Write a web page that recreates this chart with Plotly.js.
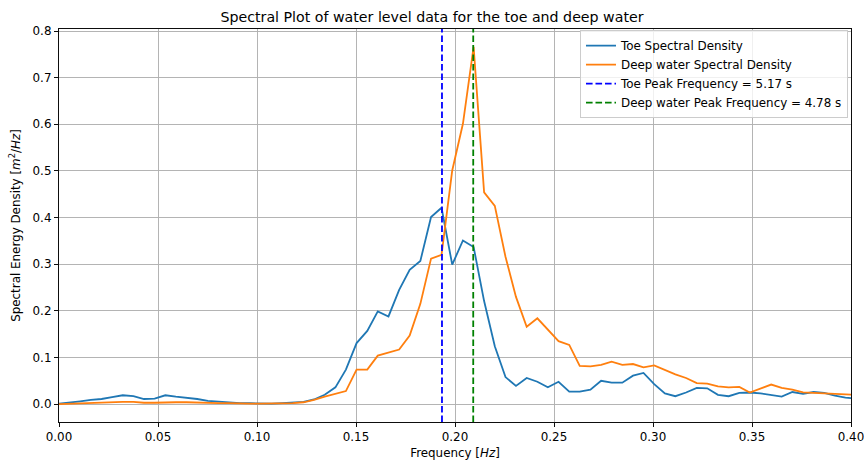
<!DOCTYPE html>
<html>
<head>
<meta charset="utf-8">
<script src="https://cdn.plot.ly/plotly-3.0.1.min.js"></script>
<style>
  html, body { margin: 0; padding: 0; background: #fff; }
  #chart { width: 864px; height: 461px; }
</style>
</head>
<body>
<div id="chart"></div>
<script>
// Frequencies [Hz]
const freq = [0, 0.0054, 0.0107, 0.0161, 0.0215, 0.0268, 0.0322, 0.0376, 0.0429, 0.0483,
  0.0537, 0.0590, 0.0644, 0.0698, 0.0752, 0.0805, 0.0859, 0.0913, 0.0966, 0.1020,
  0.1074, 0.1127, 0.1181, 0.1235, 0.1288, 0.1342, 0.1396, 0.1449, 0.1503, 0.1557,
  0.1610, 0.1664, 0.1718, 0.1771, 0.1825, 0.1879, 0.1932, 0.1986, 0.2040, 0.2094,
  0.2147, 0.2201, 0.2255, 0.2308, 0.2362, 0.2416, 0.2469, 0.2523, 0.2577, 0.2630,
  0.2684, 0.2738, 0.2791, 0.2845, 0.2899, 0.2952, 0.3006, 0.3060, 0.3113, 0.3167,
  0.3221, 0.3274, 0.3328, 0.3382, 0.3436, 0.3489, 0.3543, 0.3597, 0.3650, 0.3704,
  0.3758, 0.3811, 0.3865, 0.3919, 0.3972, 0.4026];

// Toe spectral density [m^2/Hz]
const toeDensity = [0.001, 0.003, 0.006, 0.009, 0.011, 0.015, 0.019, 0.017, 0.011, 0.012,
  0.019, 0.016, 0.014, 0.011, 0.007, 0.005, 0.003, 0.002, 0.002, 0.001,
  0.001, 0.002, 0.003, 0.005, 0.010, 0.020, 0.036, 0.074, 0.131, 0.157,
  0.199, 0.188, 0.245, 0.288, 0.307, 0.401, 0.421, 0.299, 0.351, 0.337,
  0.221, 0.124, 0.058, 0.039, 0.056, 0.048, 0.036, 0.048, 0.027, 0.027,
  0.031, 0.050, 0.046, 0.046, 0.061, 0.067, 0.043, 0.023, 0.017, 0.025,
  0.035, 0.034, 0.020, 0.017, 0.024, 0.025, 0.023, 0.019, 0.016, 0.026,
  0.022, 0.026, 0.024, 0.018, 0.014, 0.012];

// Deep water spectral density [m^2/Hz]
const deepDensity = [0.000, 0.001, 0.002, 0.003, 0.004, 0.004, 0.005, 0.005, 0.003, 0.003,
  0.004, 0.004, 0.004, 0.003, 0.003, 0.002, 0.002, 0.001, 0.001, 0.001,
  0.001, 0.001, 0.002, 0.004, 0.009, 0.016, 0.022, 0.028, 0.074, 0.074,
  0.104, 0.110, 0.117, 0.147, 0.215, 0.312, 0.320, 0.501, 0.601, 0.766,
  0.454, 0.425, 0.316, 0.230, 0.166, 0.184, 0.159, 0.135, 0.127, 0.082,
  0.081, 0.084, 0.091, 0.084, 0.086, 0.079, 0.083, 0.073, 0.064, 0.056,
  0.045, 0.044, 0.038, 0.036, 0.037, 0.025, 0.033, 0.042, 0.035, 0.031,
  0.025, 0.024, 0.024, 0.023, 0.021, 0.020];

// Peak periods [s]
const toePeakPeriod = 5.17;
const deepPeakPeriod = 4.78;

const xTicks = [0, 0.05, 0.10, 0.15, 0.20, 0.25, 0.30, 0.35, 0.40];
const yTicks = [0, 0.1, 0.2, 0.3, 0.4, 0.5, 0.6, 0.7, 0.8];

const FONT = 'DejaVu Sans, sans-serif';
const FS = 11.9;

const traces = [
  { x: freq, y: toeDensity, type: 'scatter', mode: 'lines',
    name: 'Toe Spectral Density', line: { color: '#1f77b4', width: 1.8 } },
  { x: freq, y: deepDensity, type: 'scatter', mode: 'lines',
    name: 'Deep water Spectral Density', line: { color: '#ff7f0e', width: 1.8 } },
  { x: [1 / toePeakPeriod, 1 / toePeakPeriod], y: [0, 1], yaxis: 'y2', type: 'scatter', mode: 'lines',
    name: 'Toe Peak Frequency = ' + toePeakPeriod.toFixed(2) + ' s',
    line: { color: '#0000ff', width: 1.8, dash: '6.6px,2.9px' } },
  { x: [1 / deepPeakPeriod, 1 / deepPeakPeriod], y: [0, 1], yaxis: 'y2', type: 'scatter', mode: 'lines',
    name: 'Deep water Peak Frequency = ' + deepPeakPeriod.toFixed(2) + ' s',
    line: { color: '#008000', width: 1.8, dash: '6.6px,2.9px' } }
];

const layout = {
  width: 864, height: 461,
  margin: { l: 59, r: 13, t: 29, b: 39, pad: 0 },
  paper_bgcolor: '#ffffff', plot_bgcolor: '#ffffff',
  font: { family: FONT, size: FS, color: '#000' },
  showlegend: true,
  title: { text: 'Spectral Plot of water level data for the toe and deep water',
    font: { family: FONT, size: 14.2, color: '#000' }, x: 0.5, xanchor: 'center', y: 0.963, yanchor: 'middle' },
  xaxis: {
    range: [0, 0.4], tickvals: xTicks, ticktext: xTicks.map(v => v.toFixed(2)),
    showgrid: true, gridcolor: '#b0b0b0', gridwidth: 0.95,
    showline: true, linecolor: '#000', linewidth: 0.95, mirror: true,
    ticks: 'outside', ticklen: 4.2, tickwidth: 0.95, tickcolor: '#000',
    ticklabeloverflow: 'allow',
    zeroline: false, tickfont: { family: FONT, size: FS, color: '#000' },
    title: { text: 'Frequency [<i>Hz</i>]', font: { family: FONT, size: FS, color: '#000' }, standoff: 5 }
  },
  yaxis: {
    range: [-0.0383, 0.8043], tickvals: yTicks, ticktext: yTicks.map(v => v.toFixed(1)),
    showgrid: true, gridcolor: '#b0b0b0', gridwidth: 0.95,
    showline: true, linecolor: '#000', linewidth: 0.95, mirror: true,
    ticks: 'outside', ticklen: 4.2, tickwidth: 0.95, tickcolor: '#000',
    ticklabeloverflow: 'allow',
    zeroline: false, tickfont: { family: FONT, size: FS, color: '#000' },
    title: { text: 'Spectral Energy Density [<i>m</i><sup>2</sup>/<i>Hz</i>]', font: { family: FONT, size: FS, color: '#000' }, standoff: 9 }
  },
  yaxis2: { overlaying: 'y', range: [0, 1], visible: false, fixedrange: true },
  legend: {
    x: 0.9962, xanchor: 'right', y: 0.997, yanchor: 'top',
    bgcolor: 'rgba(255,255,255,0.8)', bordercolor: '#cccccc', borderwidth: 1,
    font: { family: FONT, size: FS, color: '#000' },
    tracegroupgap: 0, itemwidth: 30
  }
};

Plotly.newPlot('chart', traces, layout, { displayModeBar: false, staticPlot: true });
</script>
</body>
</html>
